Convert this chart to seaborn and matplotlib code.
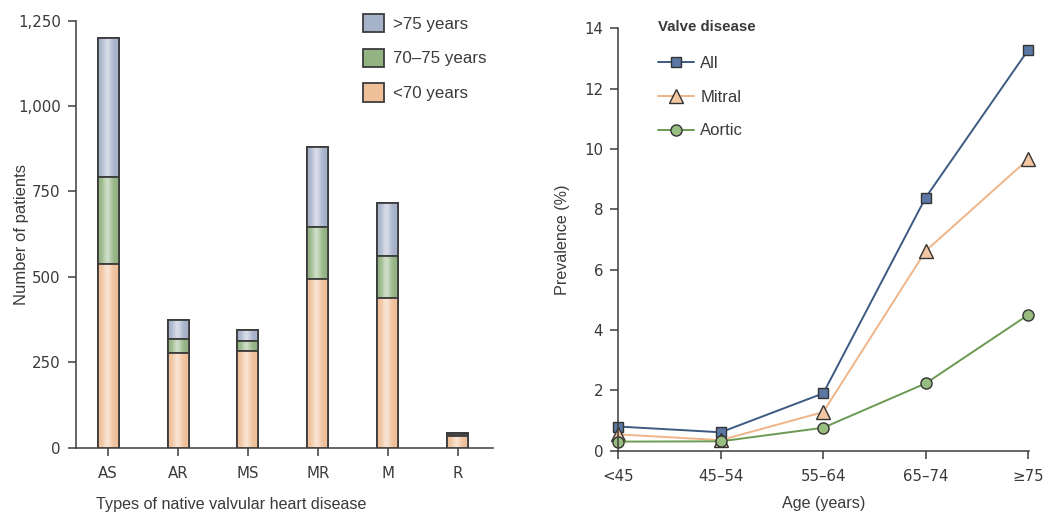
import numpy as np
import pandas as pd
import matplotlib
matplotlib.use("Agg")
import matplotlib.pyplot as plt
import seaborn as sns
from matplotlib.patches import Patch, Rectangle
from matplotlib.lines import Line2D
from matplotlib.colors import to_rgb

# left panel: patients by valve disease type and age group
disease_types = ["AS", "AR", "MS", "MR", "M", "R"]
under_70 = [537, 277, 282, 494, 437, 34]
age_70_75 = [256, 42, 30, 151, 125, 5]
over_75 = [407, 54, 31, 236, 154, 4]

# right panel: prevalence (%) by age band
age_bands = ["<45", "45\u201354", "55\u201364", "65\u201374", "\u226575"]
prev_all = [0.8, 0.61, 1.9, 8.39, 13.28]
prev_mitral = [0.54, 0.35, 1.28, 6.62, 9.66]
prev_aortic = [0.3, 0.31, 0.76, 2.23, 4.5]

sns.set_style("ticks")
plt.rcParams["font.family"] = ["Liberation Sans", "DejaVu Sans"]
txt = "#3a3a3a"
edge = "#3c3c3c"
plt.rcParams.update({
    "text.color": txt, "axes.labelcolor": txt,
    "xtick.color": edge, "ytick.color": edge,
    "xtick.labelcolor": txt, "ytick.labelcolor": txt,
    "axes.edgecolor": edge, "axes.linewidth": 1.1,
    "xtick.major.width": 1.1, "ytick.major.width": 1.1,
    "xtick.major.size": 6, "ytick.major.size": 6,
})
tick_font = {"family": "DejaVu Sans", "size": 10.8}
lab_size = 11.6

c_blue = "#a6b2ca"
c_green = "#93b382"
c_orange = "#efbf98"


def shaded(color, n=64):
    # light vertical highlight across the bar, like the printed figure
    base = np.array(to_rgb(color))
    t = np.linspace(0, 1, n)
    w = np.exp(-((t - 0.45) / 0.22) ** 2) * 0.55
    rgb = base[None, :] * (1 - w[:, None]) + w[:, None]
    return rgb[None, :, :]


fig = plt.figure(figsize=(10.48, 5.15), dpi=100)
ax1 = fig.add_axes([0.0725, 0.1307, 0.3975, 0.8293])
ax2 = fig.add_axes([0.590, 0.1249, 0.392, 0.8201])

df = pd.DataFrame({"type": disease_types, "lt70": under_70,
                   "mid": age_70_75, "gt75": over_75})
df["lvl2"] = df["lt70"] + df["mid"]
df["total"] = df["lvl2"] + df["gt75"]

layers = [("total", c_blue), ("lvl2", c_green), ("lt70", c_orange)]
for k, (col, c) in enumerate(layers):
    n_before = len(ax1.patches)
    sns.barplot(data=df, x="type", y=col, color=c, width=0.3,
                edgecolor=edge, linewidth=1.3, ax=ax1, saturation=1)
    for p in ax1.patches[n_before:]:
        z = 2 + 3 * k
        p.set_zorder(z)
        x0, y0 = p.get_x(), p.get_y()
        w, h = p.get_width(), p.get_height()
        im = ax1.imshow(shaded(c), extent=(x0, x0 + w, y0, y0 + h),
                        aspect="auto", zorder=z + 1, interpolation="bilinear")
        im.set_clip_path(p)
        ax1.add_patch(Rectangle((x0, y0), w, h, fill=False, edgecolor=edge,
                                linewidth=1.3, zorder=z + 2))

ax1.set_ylim(0, 1250)
ax1.set_xlim(-0.46, 5.5)
ax1.set_yticks([0, 250, 500, 750, 1000, 1250])
ax1.set_yticklabels(["0", "250", "500", "750", "1,000", "1,250"])
ax1.tick_params(pad=5)
ax1.tick_params(axis="x", pad=7)
for t in ax1.get_xticklabels() + ax1.get_yticklabels():
    t.set_fontproperties(tick_font)
ax1.set_ylabel("Number of patients", fontsize=12)
ax1.yaxis.set_label_coords(-0.113, 0.5)
ax1.set_xlabel("Types of native valvular heart disease", fontsize=lab_size,
               x=0.048, ha="left")
ax1.xaxis.set_label_coords(0.048, -0.115)
sns.despine(ax=ax1)

handles = [Patch(facecolor=c_blue, edgecolor=edge, linewidth=1.3),
           Patch(facecolor=c_green, edgecolor=edge, linewidth=1.3),
           Patch(facecolor=c_orange, edgecolor=edge, linewidth=1.3)]
fig.legend(handles, [">75 years", "70\u201375 years", "<70 years"],
           loc="upper left", bbox_to_anchor=(363 / 1048, 1 - 14 / 515),
           frameon=False, fontsize=12.2, handlelength=1.22, handleheight=1.3,
           labelspacing=0.95, handletextpad=0.55, borderpad=0, borderaxespad=0)

# right panel
series = [
    ("All", prev_all, "#3d5a82", "s", "#5a78a3", 7.5),
    ("Mitral", prev_mitral, "#efb487", "^", "#f3c7a2", 10.5),
    ("Aortic", prev_aortic, "#6b9a52", "o", "#98bd80", 8),
]
for name, vals, lc, mk, mfc, ms in series:
    sns.lineplot(x=age_bands, y=vals, ax=ax2, color=lc, linewidth=1.4,
                 marker=mk, markersize=ms, markerfacecolor=mfc,
                 markeredgecolor="#333333", markeredgewidth=1.0, sort=False)

ax2.set_ylim(0, 14)
ax2.set_xlim(0, 4.01)
ax2.set_yticks(range(0, 15, 2))
ax2.tick_params(pad=5)
ax2.tick_params(axis="x", pad=7)
for t in ax2.get_xticklabels() + ax2.get_yticklabels():
    t.set_fontproperties(tick_font)
ax2.set_ylabel("Prevalence (%)", fontsize=lab_size)
ax2.yaxis.set_label_coords(-0.118, 0.5)
ax2.set_xlabel("Age (years)", fontsize=lab_size)
ax2.xaxis.set_label_coords(0.5, -0.108)
for s in ax2.collections + ax2.lines:
    s.set_clip_on(False)
sns.despine(ax=ax2)

lh = [Line2D([], [], color=lc, linewidth=1.4, marker=mk, markersize=ms,
             markerfacecolor=mfc, markeredgecolor="#333333",
             markeredgewidth=1.0)
      for name, vals, lc, mk, mfc, ms in series]
leg = ax2.legend(lh, [s[0] for s in series], title="Valve disease",
                 loc="upper left", bbox_to_anchor=(0.096, 1.02),
                 frameon=False, fontsize=12, handlelength=2.15,
                 labelspacing=1.12, handletextpad=0.4, borderpad=0,
                 borderaxespad=0, alignment="left",
                 title_fontproperties={"weight": "bold", "size": 10.8})
leg._legend_box.sep = 16

fig.savefig("out.png", dpi=100)
